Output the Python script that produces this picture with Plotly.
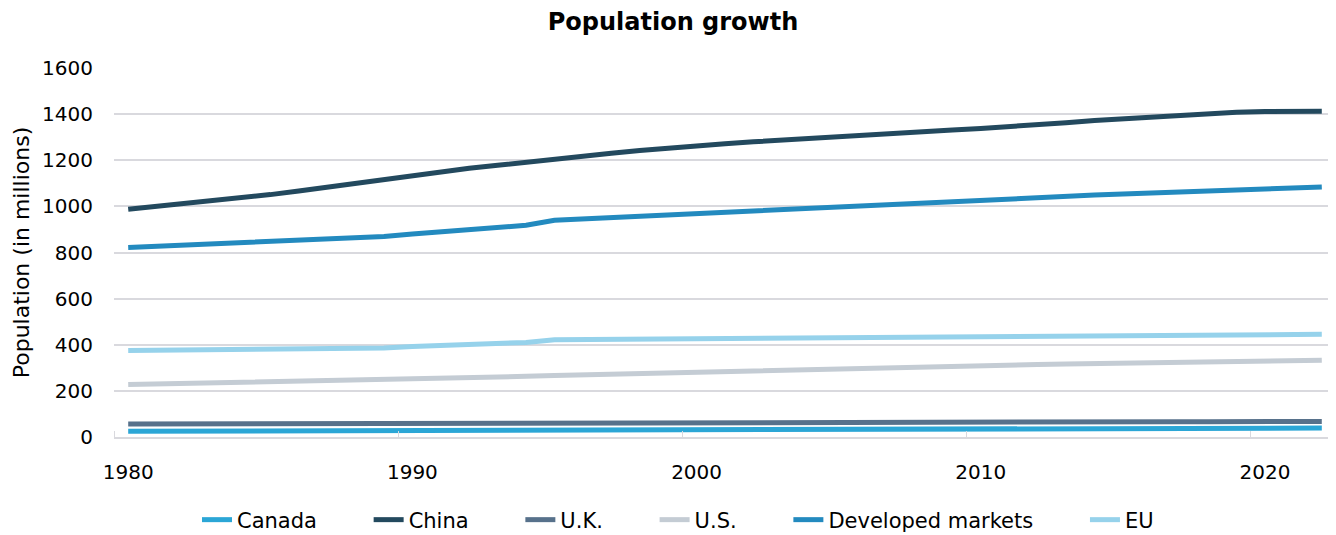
import plotly.graph_objects as go

years = list(range(1980, 2023))

canada = [24.5, 24.8, 25.1, 25.5, 25.7, 26.0, 26.2, 26.5, 26.8, 27.3, 27.7, 28.0, 28.4, 28.7,
          29.0, 29.3, 29.6, 29.9, 30.2, 30.4, 30.7, 31.0, 31.4, 31.6, 31.9, 32.2, 32.6, 32.9,
          33.2, 33.6, 34.0, 34.3, 34.7, 35.1, 35.4, 35.7, 36.1, 36.5, 37.1, 37.6, 38.0, 38.2, 38.9]
china = [988, 1000, 1012, 1024, 1037, 1051, 1067, 1084, 1102, 1119, 1135, 1151, 1165, 1178,
         1192, 1205, 1218, 1230, 1242, 1253, 1263, 1272, 1280, 1288, 1296, 1304, 1311, 1318,
         1325, 1331, 1338, 1345, 1354, 1363, 1372, 1380, 1388, 1396, 1403, 1408, 1411, 1412, 1412]
uk = [56.3, 56.4, 56.3, 56.3, 56.4, 56.6, 56.7, 56.8, 57.0, 57.1, 57.2, 57.4, 57.6, 57.7,
      57.9, 58.0, 58.2, 58.3, 58.5, 58.7, 58.9, 59.1, 59.4, 59.6, 59.9, 60.4, 60.8, 61.3,
      61.8, 62.3, 62.8, 63.3, 63.7, 64.1, 64.6, 65.1, 65.6, 66.1, 66.5, 66.8, 67.1, 67.0, 67.6]
us = [227.2, 229.5, 231.7, 233.8, 235.8, 237.9, 240.1, 242.3, 244.5, 246.8, 249.6, 253.0,
      256.5, 259.9, 263.1, 266.3, 269.4, 272.7, 275.9, 279.0, 282.2, 285.0, 287.6, 290.1,
      292.8, 295.5, 298.4, 301.2, 304.1, 306.8, 309.3, 311.6, 313.9, 316.1, 318.4, 320.7,
      323.1, 325.1, 326.8, 328.3, 331.5, 332.0, 333.3]
developed = [822, 827, 832, 837, 841, 846, 851, 856, 862, 869, 880, 889, 898, 911, 918, 940,
             946, 952, 958, 964, 970, 976, 982, 988, 994, 1000, 1006, 1012, 1018, 1024, 1029,
             1034, 1039, 1044, 1049, 1054, 1059, 1064, 1068, 1072, 1077, 1080, 1084]
eu = [375, 376, 377, 378, 379, 380, 381, 382, 383, 386, 392, 396, 401, 406, 410, 422, 423,
      424, 424, 425, 426, 427, 428, 429, 431, 432, 433, 435, 436, 437, 438, 438, 439, 440,
      441, 442, 443, 443, 444, 445, 445, 445, 445]

series_names = ["Canada", "China", "U.K.", "U.S.", "Developed markets", "EU"]
series_values = [canada, china, uk, us, developed, eu]
series_colors = ["#2BA6D6", "#23495E", "#57718B", "#C4CCD4", "#238ABF", "#96D2EB"]

x_tick_vals = [1980, 1990, 2000, 2010, 2020]
y_tick_vals = [0, 200, 400, 600, 800, 1000, 1200, 1400, 1600]

FONT = "DejaVu Sans, Noto Sans, sans-serif"
W, H = 1328, 527  # page body has an 8px margin

fig = go.Figure()
for i, (name, vals, color) in enumerate(zip(series_names, series_values, series_colors)):
    pad = "" if i == len(series_names) - 1 else "\u00a0" * 7
    fig.add_trace(go.Scatter(x=years, y=vals, name=name + pad, mode="lines",
                             line=dict(color=color, width=5)))

fig.update_layout(
    width=W, height=H,
    margin=dict(l=106, r=0, t=60, b=98),
    paper_bgcolor="white", plot_bgcolor="white",
    font=dict(family=FONT, size=20, color="#000000"),
    title=dict(text="<b>Population growth</b>", x=665 / W, xref="container", xanchor="center",
               y=1 - 14 / H, yanchor="middle", yref="container",
               font=dict(family=FONT, size=24, color="#000000")),
    showlegend=True,
    legend=dict(orientation="h", xref="container", x=670 / W, xanchor="center",
                yref="container", y=15 / H, yanchor="middle",
                font=dict(family=FONT, size=21, color="#000000"),
                itemwidth=30, traceorder="normal"),
    xaxis=dict(range=[1979.5, 2022.5], tickmode="array", tickvals=x_tick_vals,
               ticktext=[str(v) for v in x_tick_vals],
               showgrid=False, zeroline=False,
               showline=True, linecolor="#D9D9DE", linewidth=2,
               ticks="", ticklabelstandoff=16,
               tickfont=dict(family=FONT, size=20),
               minor=dict(tick0=1979.5, dtick=10, ticks="inside", ticklen=6,
                          tickcolor="#D9D9DE", tickwidth=1, showgrid=False)),
    yaxis=dict(range=[0, 1600], tickmode="array", tickvals=y_tick_vals,
               showgrid=True, gridcolor="#D9D9DE", gridwidth=1.5,
               zeroline=False, showline=False,
               ticks="", ticklabelstandoff=20,
               tickfont=dict(family=FONT, size=20),
               title=dict(text="Population (in millions)", standoff=6,
                          font=dict(family=FONT, size=22))),
)

fig.write_html("out.html")
